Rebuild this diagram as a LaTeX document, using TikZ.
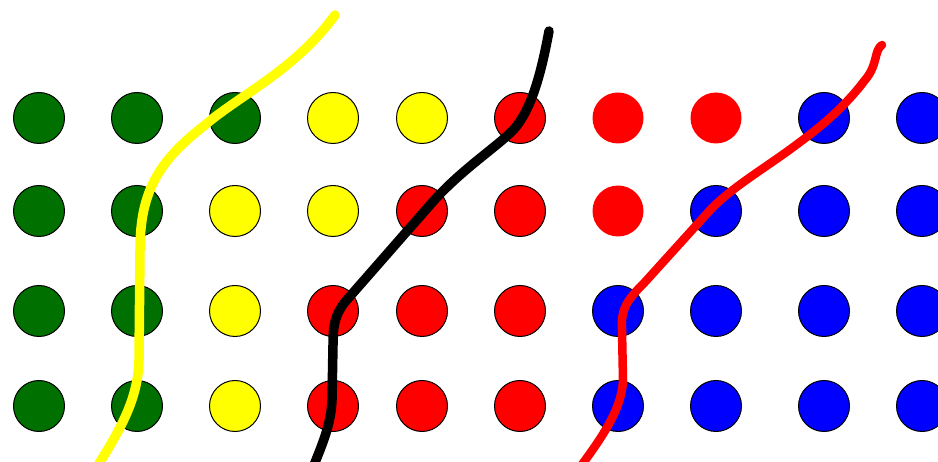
\documentclass[tikz,border=0pt]{standalone}
\definecolor{dgreen}{RGB}{0,112,0}
\definecolor{pyellow}{RGB}{255,255,0}
\definecolor{pred}{RGB}{255,0,0}
\definecolor{pblue}{RGB}{0,0,255}
\begin{document}
\begin{tikzpicture}[x=1pt,y=-1pt,
  dot/.style={circle,inner sep=0pt,minimum size=51pt,draw=black,line width=1pt},
  bare/.style={circle,inner sep=0pt,minimum size=51pt,draw=none},
  G/.style={dot,fill=dgreen},
  Y/.style={dot,fill=pyellow},
  R/.style={dot,fill=pred},
  Rn/.style={bare,fill=pred},
  B/.style={dot,fill=pblue},
  stroke/.style={line width=9.5pt,line cap=round,line join=round}]
\useasboundingbox (0,0) rectangle (938,462);
\clip (0,0) rectangle (938,462);
\fill[white] (0,0) rectangle (938,462);
\def\xs{{39,137,235,333,422,520,618,716,824,922}}
\foreach \st [count=\i from 0] in {G,G,G,Y,Y,R,Rn,Rn,B,B}
  \node[\st] (a\i) at ({\xs[\i]},118) {};
\foreach \st [count=\i from 0] in {G,G,Y,Y,R,R,Rn,B,B,B}
  \node[\st] (b\i) at ({\xs[\i]},211) {};
\foreach \st [count=\i from 0] in {G,G,Y,R,R,R,B,B,B,B}
  \node[\st] (c\i) at ({\xs[\i]},311) {};
\foreach \st [count=\i from 0] in {G,G,Y,R,R,R,B,B,B,B}
  \node[\st] (d\i) at ({\xs[\i]},406) {};
% yellow curve
\draw[stroke,pyellow] (335,15) .. controls (295,70) and (240,95) .. (205,125)
  .. controls (160,160) and (140,190) .. (140,250)
  -- (139,360) .. controls (138,400) and (120,430) .. (95,470);
% black curve
\draw[stroke,black] (549,31) .. controls (540,80) and (530,110) .. (515,128)
  .. controls (500,145) and (460,170) .. (430,205)
  -- (345,302) .. controls (335,315) and (333,325) .. (333,345)
  -- (332,400) .. controls (331,425) and (322,445) .. (312,470);
% red curve
\draw[stroke,pred,line width=8.5pt] (882,45) .. controls (874,50) and (878,65) .. (865,80)
  .. controls (850,100) and (830,120) .. (800,142)
  .. controls (770,165) and (735,185) .. (712,208)
  -- (645,282) .. controls (625,302) and (621,310) .. (622,330)
  -- (623,380) .. controls (622,410) and (600,440) .. (578,470);
\end{tikzpicture}
\end{document}
